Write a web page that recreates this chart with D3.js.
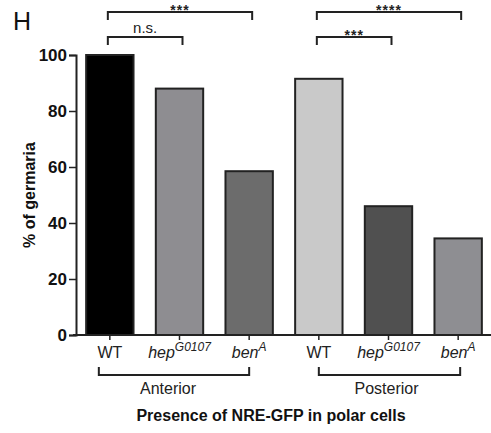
<!DOCTYPE html>
<html>
<head>
<meta charset="utf-8">
<script src="https://cdn.jsdelivr.net/npm/d3@7"></script>
<style>
  body { margin: 0; background: #fff; }
  svg { display: block; font-family: "Liberation Sans", Arial, sans-serif; }
</style>
</head>
<body>
<div id="chart"></div>
<script>
// data
var genotypes = ["WT", "hep", "ben", "WT", "hep", "ben"];
var supers = ["", "G0107", "A", "", "G0107", "A"];
var regions = ["Anterior", "Posterior"];
var values = [100, 88, 58.5, 91.5, 46, 34.5];
var fills = ["#000000", "#8e8d91", "#6c6c6c", "#c9c9c9", "#505050", "#8e8e92"];
var yTicks = [0, 20, 40, 60, 80, 100];
// significance: [from bar, to bar, label, level]
var sig = [[0, 2, "***", 0], [0, 1, "n.s.", 1], [3, 5, "****", 0], [3, 4, "***", 1]];

var width = 491, height = 433;
var margin = {top: 55, right: 0, bottom: 98, left: 76};

var svg = d3.select("#chart").append("svg")
  .attr("width", width)
  .attr("height", height);

var ids = d3.range(values.length);

var x = d3.scaleBand()
  .domain(ids)
  .range([margin.left - 1, width + 2])
  .paddingInner(0.32)
  .paddingOuter(0.16);

var y = d3.scaleLinear()
  .domain([0, 100])
  .range([height - margin.bottom, margin.top]);

// bars
svg.append("g")
  .selectAll("rect")
  .data(ids)
  .join("rect")
  .attr("x", d => x(d))
  .attr("y", d => y(values[d]))
  .attr("width", x.bandwidth())
  .attr("height", d => y(0) - y(values[d]))
  .attr("fill", d => fills[d])
  .attr("stroke", "#222")
  .attr("stroke-width", 2);

// y axis
var yAxis = svg.append("g")
  .attr("transform", "translate(" + margin.left + ",0)")
  .call(d3.axisLeft(y).tickValues(yTicks).tickSize(7).tickPadding(2));
yAxis.select(".domain").attr("stroke", "#222").attr("stroke-width", 2);
yAxis.selectAll(".tick line").attr("stroke", "#222").attr("stroke-width", 1.5);
yAxis.selectAll("text")
  .attr("font-size", 17)
  .attr("font-weight", "bold")
  .attr("fill", "#111")
  .attr("font-family", "Liberation Sans, Arial, sans-serif");

// x axis
var xAxis = svg.append("g")
  .attr("transform", "translate(0," + y(0) + ")")
  .call(d3.axisBottom(x).tickSizeOuter(0).tickSize(5).tickFormat(""));
xAxis.select(".domain").attr("stroke", "#222").attr("stroke-width", 2)
  .attr("d", "M" + (margin.left - 3) + ",0H" + width);
xAxis.selectAll(".tick line").attr("stroke", "#222").attr("stroke-width", 1.5);

// genotype labels with superscripts
var lab = svg.append("g")
  .selectAll("text")
  .data(ids)
  .join("text")
  .attr("x", d => x(d) + x.bandwidth() / 2)
  .attr("y", y(0) + 23)
  .attr("text-anchor", "middle")
  .attr("font-size", 16)
  .attr("fill", "#222")
  .attr("font-style", d => genotypes[d] == "WT" ? "normal" : "italic");
lab.append("tspan").text(d => genotypes[d]);
lab.append("tspan")
  .attr("dy", -7)
  .attr("font-size", 12)
  .text(d => supers[d]);

// region brackets
var groups = [[0, 2], [3, 5]];
var by = 375;
groups.forEach(function(g, i) {
  var x1 = x(g[0]) + x.bandwidth() / 2 - (i == 0 ? 11 : 0);
  var x2 = x(g[1]) + x.bandwidth() / 2 + (i == 1 ? 2 : 0);
  svg.append("path")
    .attr("d", "M" + x1 + "," + (by - 8) + "V" + by + "H" + x2 + "V" + (by - 8))
    .attr("fill", "none")
    .attr("stroke", "#222")
    .attr("stroke-width", 2);
  svg.append("text")
    .attr("x", (x1 + x2) / 2 - (i == 0 ? 6 : 3))
    .attr("y", 394)
    .attr("text-anchor", "middle")
    .attr("font-size", 16)
    .attr("fill", "#222")
    .text(regions[i]);
});

// significance brackets
var levelY = [12, 37];
sig.forEach(function(s) {
  var x1 = x(s[0]) + x.bandwidth() / 2 - 2;
  var x2 = x(s[1]) + x.bandwidth() / 2 + 3;
  var ly = levelY[s[3]];
  var ns = s[2] == "n.s.";
  svg.append("path")
    .attr("d", "M" + x1 + "," + (ly + 8) + "V" + ly + "H" + x2 + "V" + (ly + 8))
    .attr("fill", "none")
    .attr("stroke", "#222")
    .attr("stroke-width", 2);
  svg.append("text")
    .attr("x", (x1 + x2) / 2)
    .attr("y", ns ? ly - 4 : ly + 3)
    .attr("text-anchor", "middle")
    .attr("font-size", ns ? 15 : 14)
    .attr("font-weight", ns ? "normal" : "bold")
    .attr("letter-spacing", ns ? 0 : 1)
    .attr("fill", "#222")
    .text(s[2]);
});

// axis titles
svg.append("text")
  .attr("transform", "translate(35," + ((y(0) + y(100)) / 2) + ") rotate(-90)")
  .attr("text-anchor", "middle")
  .attr("font-size", 16)
  .attr("font-weight", "bold")
  .attr("fill", "#111")
  .text("% of germaria");

svg.append("text")
  .attr("x", 271)
  .attr("y", 421)
  .attr("text-anchor", "middle")
  .attr("font-size", 16)
  .attr("font-weight", "bold")
  .attr("fill", "#111")
  .text("Presence of NRE-GFP in polar cells");

// panel letter
svg.append("text")
  .attr("x", 13)
  .attr("y", 30)
  .attr("font-size", 25)
  .attr("fill", "#111")
  .text("H");
</script>
</body>
</html>
